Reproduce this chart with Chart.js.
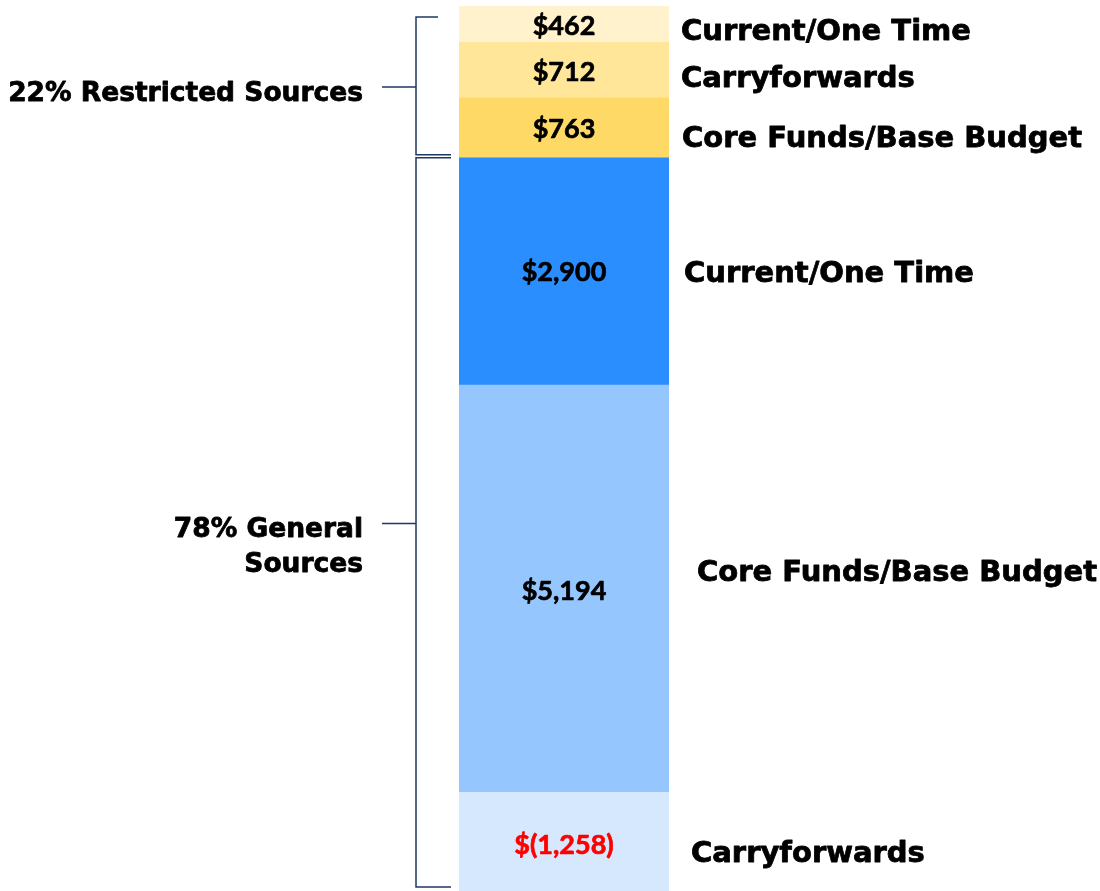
<!DOCTYPE html>
<html>
<head>
<meta charset="utf-8">
<script src="https://cdn.jsdelivr.net/npm/chart.js@4.4.1/dist/chart.umd.min.js"></script>
<style>
html,body{margin:0;padding:0;background:#fff;}
#wrap{width:1100px;height:891px;position:relative;}
</style>
</head>
<body>
<div id="wrap"><canvas id="c" width="1100" height="891"></canvas></div>
<script>
// Segments listed bottom to top
const segmentNames = ["Carryforwards", "Core Funds/Base Budget", "Current/One Time", "Core Funds/Base Budget", "Carryforwards", "Current/One Time"];
const segmentGroups = ["General", "General", "General", "Restricted", "Restricted", "Restricted"];
const segmentValues = [-1258, 5194, 2900, 763, 712, 462];
const segmentLabels = ["$(1,258)", "$5,194", "$2,900", "$763", "$712", "$462"];
const groupLabels = { Restricted: ["22% Restricted Sources"], General: ["78% General", "Sources"] };

// styles
const segmentColors = ["#D6E8FE", "#96C6FE", "#2B8EFE", "#FFD966", "#FFE699", "#FFF2CC"];
const valueLabelColors = ["#FF0000", "#000", "#000", "#000", "#000", "#000"];
const nameOffsets = [[232, 13], [238, -15], [225, 3], [223, 12], [222, 9], [222, 8]]; // dx from bar left, dy from segment centre
const valueDy = [4, 3, 1, 1, 2, 2];
const tickLens = { Restricted: [22, 35], General: [35, 35] };

const datasets = segmentValues.map((v, i) => ({
  label: segmentNames[i],
  data: [Math.abs(v)],
  backgroundColor: segmentColors[i],
  borderWidth: 0,
  barPercentage: 1,
  categoryPercentage: 1
}));

const total = segmentValues.reduce((a, v) => a + Math.abs(v), 0);

function heavyText(ctx, text, x, y, color, w) {
  ctx.fillStyle = color;
  ctx.strokeStyle = color;
  ctx.lineWidth = w;
  ctx.lineJoin = 'round';
  ctx.strokeText(text, x, y);
  ctx.fillText(text, x, y);
}

const overlay = {
  id: 'overlay',
  afterDatasetsDraw(chart) {
    const ctx = chart.ctx;
    const segs = chart.data.datasets.map((d, i) => chart.getDatasetMeta(i).data[0]);
    ctx.save();
    // value labels
    ctx.textAlign = 'center';
    ctx.textBaseline = 'middle';
    ctx.font = 'bold 27px Lato';
    segs.forEach((el, i) => {
      const cy = (el.y + el.base) / 2 + valueDy[i];
      heavyText(ctx, segmentLabels[i], el.x, cy, valueLabelColors[i], 0.7);
    });
    // names on the right
    ctx.textAlign = 'left';
    ctx.font = 'bold 29px "DejaVu Sans"';
    const left = chart.chartArea.left;
    segs.forEach((el, i) => {
      const cy = (el.y + el.base) / 2 + nameOffsets[i][1];
      heavyText(ctx, segmentNames[i], left + nameOffsets[i][0], cy, '#000', 0.8);
    });
    // brackets
    const bx = left - 43, midStart = left - 77;
    const drawBracket = (top, bottom, textLines, tl) => {
      ctx.strokeStyle = '#1F3864';
      ctx.lineWidth = 1.5;
      ctx.lineJoin = 'miter';
      ctx.beginPath();
      ctx.moveTo(bx + tl[0], top); ctx.lineTo(bx, top); ctx.lineTo(bx, bottom); ctx.lineTo(bx + tl[1], bottom);
      const mid = (top + bottom) / 2 + 1;
      ctx.moveTo(bx, mid); ctx.lineTo(midStart, mid);
      ctx.stroke();
      ctx.textAlign = 'right';
      ctx.font = 'bold 26.5px "DejaVu Sans"';
      const lh = 35;
      textLines.forEach((t, k) => heavyText(ctx, t, midStart - 19, mid + 7 + k * lh, '#000', 0.8));
    };
    const restricted = segs.filter((_, i) => segmentGroups[i] === 'Restricted');
    const general = segs.filter((_, i) => segmentGroups[i] === 'General');
    const rTop = Math.min(...restricted.map(e => e.y)) + 11;
    const rBot = Math.max(...restricted.map(e => e.base)) - 3;
    const gTop = Math.min(...general.map(e => e.y));
    const gBot = Math.max(...general.map(e => e.base)) - 4;
    drawBracket(rTop, rBot, groupLabels.Restricted, tickLens.Restricted);
    drawBracket(gTop, gBot, groupLabels.General, tickLens.General);
    ctx.restore();
  }
};

new Chart(document.getElementById('c'), {
  type: 'bar',
  data: { labels: ['Sources'], datasets },
  options: {
    responsive: false,
    animation: false,
    layout: { padding: { left: 459, right: 431, top: 6, bottom: 0 } },
    plugins: { legend: { display: false }, tooltip: { enabled: false } },
    scales: {
      x: { stacked: true, display: false },
      y: { stacked: true, display: false, min: 0, max: total }
    }
  },
  plugins: [overlay]
});
</script>
</body>
</html>
